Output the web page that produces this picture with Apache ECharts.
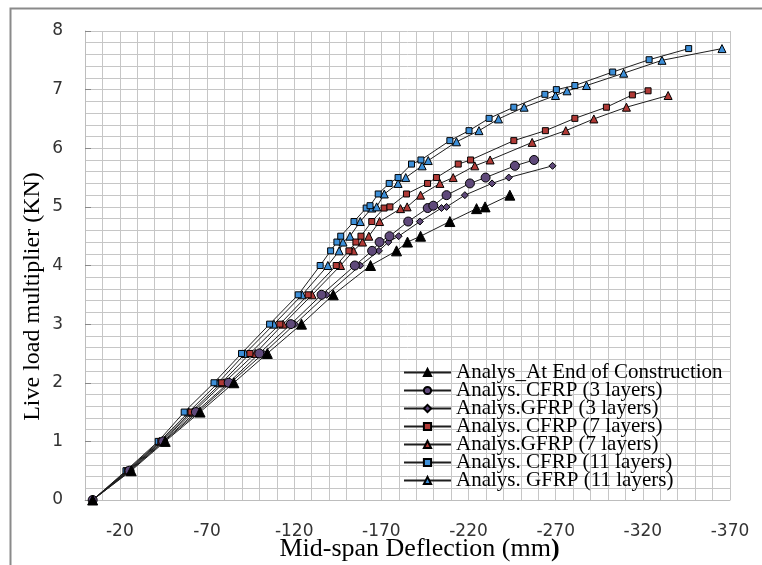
<!DOCTYPE html>
<html>
<head>
<meta charset="utf-8">
<script src="https://cdn.jsdelivr.net/npm/echarts@6/dist/echarts.min.js"></script>
<style>html,body{margin:0;padding:0;background:#fff}#c{width:762px;height:565px}</style>
</head>
<body>
<div id="c"></div>
<script>
// Deflection (mm) and live-load multiplier values
const endLoads = [0, 0.5, 1, 1.5, 2, 2.5, 3, 3.5, 4, 4.25, 4.4, 4.5, 4.75, 4.97, 5.0, 5.2];
const endDefl  = [-4.4, -26.5, -46, -66, -85.4, -104.6, -124.2, -142.4, -163.8, -178.7, -185, -192.5, -209.3, -224.6, -229.5, -243.7];

const c3Loads = [0, 0.5, 1, 1.5, 2, 2.5, 3, 3.5, 4, 4.25, 4.4, 4.5, 4.75, 4.98, 5.02, 5.2, 5.4, 5.5, 5.7, 5.8];
const c3Defl  = [-4.4, -25.5, -44.8, -63.6, -82.4, -100, -118.1, -135.7, -154.8, -164.7, -169, -174.7, -185.4, -196.6, -199.8, -207.4, -220.8, -229.8, -246.6, -257.6];

const g3Loads = [0, 0.5, 1, 1.5, 2, 2.5, 3, 3.5, 4, 4.25, 4.4, 4.5, 4.75, 4.98, 5.0, 5.2, 5.4, 5.5, 5.7];
const g3Defl  = [-4.4, -26, -45.3, -64.8, -83.5, -102.3, -120.4, -138.6, -157.9, -168.6, -174, -179.9, -192.1, -204.5, -207.4, -217.9, -233.5, -243.1, -268.2];

const c7Loads = [0, 0.5, 1, 1.5, 2, 2.5, 3, 3.5, 4, 4.25, 4.4, 4.5, 4.75, 4.98, 5.0, 5.22, 5.4, 5.5, 5.73, 5.8, 6.13, 6.3, 6.51, 6.7, 6.91, 6.98];
const c7Defl  = [-4.4, -24.5, -43.5, -60.8, -78.4, -94.6, -111.8, -128, -144.1, -151.4, -155.4, -158.3, -164.5, -171.6, -174.9, -184.4, -196.5, -201.6, -214.1, -221.2, -246, -264.1, -281, -299.1, -314, -323];

const g7Loads = [0, 0.5, 1, 1.5, 2, 2.5, 3, 3.5, 4, 4.25, 4.4, 4.5, 4.75, 4.97, 5.0, 5.2, 5.4, 5.5, 5.7, 5.8, 6.1, 6.3, 6.5, 6.7, 6.9];
const g7Defl  = [-4.4, -25, -44, -62, -79.7, -97.7, -113.7, -130.3, -146.6, -154, -159.2, -162.8, -169, -181, -184.8, -192.5, -203.6, -211.2, -223.6, -232.4, -256.5, -275.8, -291.9, -310.6, -334.5];

const c11Loads = [0, 0.5, 1, 1.5, 2, 2.5, 3, 3.5, 4, 4.25, 4.4, 4.5, 4.75, 4.98, 5.02, 5.22, 5.4, 5.5, 5.73, 5.8, 6.13, 6.3, 6.51, 6.7, 6.92, 7.0, 7.07, 7.3, 7.51, 7.7];
const c11Defl  = [-4.4, -23.5, -42, -56.9, -74, -89.8, -105.9, -122.3, -134.9, -140.9, -144.5, -146.7, -154.3, -161.3, -163.5, -168.2, -174.5, -179.6, -187.3, -192.7, -209.3, -220.3, -231.8, -246, -263.8, -270.4, -281, -302.7, -323.6, -346.3];

const g11Loads = [0, 0.5, 1, 1.5, 2, 2.5, 3, 3.5, 4, 4.25, 4.4, 4.5, 4.75, 4.98, 5.0, 5.22, 5.4, 5.5, 5.7, 5.79, 6.11, 6.3, 6.5, 6.7, 6.9, 6.98, 7.07, 7.28, 7.5, 7.7];
const g11Defl  = [-4.4, -24, -42.8, -59.5, -76.4, -91.9, -108.4, -124.6, -139.3, -145.8, -148, -152, -157.9, -164.5, -167.3, -171.7, -179.6, -184, -193.4, -196.9, -213.1, -226, -237.2, -251.9, -269.9, -276.5, -287.7, -309, -331, -365.4];

const seriesNames = [
  'Analys_At End of Construction',
  'Analys. CFRP (3 layers)',
  'Analys.GFRP (3 layers)',
  'Analys. CFRP (7 layers)',
  'Analys.GFRP (7 layers)',
  'Analys. CFRP (11 layers)',
  'Analys. GFRP (11 layers)'
];
const xTickLabels = [-20, -70, -120, -170, -220, -270, -320, -370];
const yTickLabels = [0, 1, 2, 3, 4, 5, 6, 7, 8];

const pairs = (d, l) => l.map((v, i) => [d[i], v]);

const styles = [
  {sym: 'triangle', size: 10, fill: '#000000'},
  {sym: 'circle', size: 9, fill: '#5f497a'},
  {sym: 'diamond', size: 7, fill: '#5f497a'},
  {sym: 'rect', size: 6, fill: '#b03a36'},
  {sym: 'triangle', size: 8, fill: '#b03a36'},
  {sym: 'rect', size: 6, fill: '#3d8fd8'},
  {sym: 'triangle', size: 8, fill: '#3d8fd8'}
];
const dataSets = [
  pairs(endDefl, endLoads), pairs(c3Defl, c3Loads), pairs(g3Defl, g3Loads),
  pairs(c7Defl, c7Loads), pairs(g7Defl, g7Loads), pairs(c11Defl, c11Loads), pairs(g11Defl, g11Loads)
];

const chart = echarts.init(document.getElementById('c'), null, {renderer: 'canvas'});
chart.setOption({
  animation: false,
  backgroundColor: '#ffffff',
  graphic: [{
    type: 'rect', left: 8, top: 6, shape: {width: 800, height: 600},
    style: {fill: 'none', stroke: '#8a8a8a', lineWidth: 2}, silent: true, z: -10
  }],
  grid: {left: 85, right: 32, top: 31, bottom: 65, containLabel: false, outerBoundsMode: 'none'},
  xAxis: {
    type: 'value', inverse: true, min: -370, max: 0, interval: 10,
    name: 'Mid-span Deflection (mm{b|)}', nameLocation: 'middle', nameGap: 36, nameMoveOverlap: false,
    nameTextStyle: {fontFamily: 'Liberation Serif', fontSize: 26, color: '#000', padding: [0, 0, 0, 24],
      rich: {b: {fontFamily: 'Liberation Serif', fontSize: 26, fontWeight: 'bold', color: '#000'}}},
    axisLine: {show: true, lineStyle: {color: '#bdbdbd', width: 1}},
    axisTick: {show: false},
    axisLabel: {
      margin: 23, fontFamily: 'DejaVu Sans', fontSize: 17, color: '#333',
      formatter: v => { const r = Math.round(v); return xTickLabels.includes(r) ? String(r) : ''; }
    },
    splitLine: {show: true, lineStyle: {color: '#c6c6c6', width: 1}}
  },
  yAxis: {
    type: 'value', min: 0, max: 8, interval: 1,
    name: 'Live load multiplier (KN)', nameLocation: 'middle', nameGap: 40, nameMoveOverlap: false,
    nameTextStyle: {fontFamily: 'Liberation Serif', fontSize: 24, color: '#000', padding: [0, 62, 0, 0]},
    axisLine: {show: true, lineStyle: {color: '#bdbdbd', width: 1}},
    axisTick: {show: true, inside: true, length: 6, lineStyle: {color: '#888'}},
    axisLabel: {margin: 22, fontFamily: 'DejaVu Sans', fontSize: 17, color: '#333',
      formatter: v => yTickLabels.includes(Math.round(v)) ? String(Math.round(v)) : ''},
    splitLine: {show: true, lineStyle: {color: '#c6c6c6', width: 1}},
    minorTick: {show: false, splitNumber: 5},
    minorSplitLine: {show: true, lineStyle: {color: '#c6c6c6', width: 1}}
  },
  legend: {
    orient: 'vertical', left: 403, top: 362, padding: 0, itemGap: -3,
    itemWidth: 47, itemHeight: 9,
    textStyle: {fontFamily: 'Liberation Serif', fontSize: 21, color: '#000'},
    data: seriesNames
  },
  series: seriesNames.map((n, i) => ({
    name: n, type: 'line', data: dataSets[i],
    symbol: styles[i].sym, symbolSize: styles[i].size, showAllSymbol: true,
    lineStyle: {color: '#1e1e1e', width: 1},
    itemStyle: {color: styles[i].fill, borderColor: '#000', borderWidth: 1},
    z: 10 - i
  }))
});
</script>
</body>
</html>
